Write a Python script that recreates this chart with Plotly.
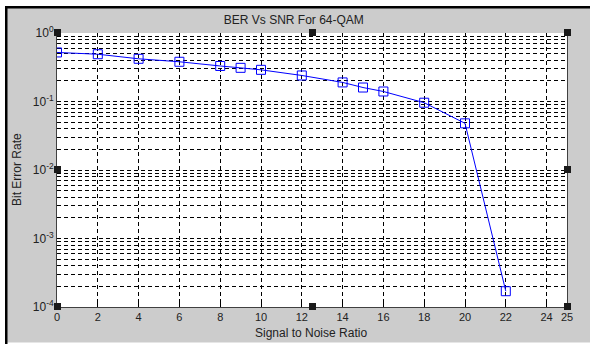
import plotly.graph_objects as go

# Data
snr = [0, 2, 4, 6, 8, 9, 10, 12, 14, 15, 16, 18, 20, 22]
ber = [0.52, 0.49, 0.42, 0.38, 0.33, 0.31, 0.29, 0.24, 0.19, 0.16, 0.14, 0.096, 0.048, 1.7e-4]
x_ticks = [0, 2, 4, 6, 8, 10, 12, 14, 16, 18, 20, 22, 24, 25]
y_ticks = [1e-4, 1e-3, 1e-2, 1e-1, 1e0]
y_tick_text = ["10<sup>-4</sup>", "10<sup>-3</sup>", "10<sup>-2</sup>", "10<sup>-1</sup>", "10<sup>0</sup>"]

W, H = 590, 344
L, R, T, B = 57, 567, 33, 307

def px(x):
    return (x - L) / (R - L)

def py(y):
    return (B - y) / (B - T)

fig = go.Figure()
fig.add_trace(go.Scatter(
    x=snr, y=ber, mode="lines+markers",
    line=dict(color="#0000ff", width=1),
    marker=dict(symbol="square-open", size=9, color="#0000ff", line=dict(width=1)),
    showlegend=False,
))

dash = "4px,3px"
fig.update_layout(
    width=W, height=H,
    margin=dict(l=L, r=W - R, t=T, b=H - B),
    paper_bgcolor="#cccccc",
    plot_bgcolor="white",
    font=dict(family="Liberation Sans, Arial, sans-serif", size=12, color="#222222"),
    title=dict(text="BER Vs SNR For 64-QAM", x=px(311), xanchor="center",
               y=1 - 20 / H, yanchor="middle", font=dict(size=12, color="#222222")),
    xaxis=dict(
        range=[0, 25], tickvals=x_ticks, ticktext=[str(v) for v in x_ticks],
        showgrid=True, gridcolor="#000000", gridwidth=1, griddash=dash,
        showline=True, linecolor="#404040", linewidth=1, mirror=False,
        ticks="inside", ticklen=4, tickcolor="#000000",
        zeroline=False, automargin=False, tickfont=dict(size=11),
    ),
    yaxis=dict(
        type="log", range=[-4, 0], tickvals=y_ticks, ticktext=y_tick_text,
        showgrid=True, gridcolor="#000000", gridwidth=1, griddash=dash,
        showline=True, linecolor="#404040", linewidth=1, mirror=True,
        ticks="inside", ticklen=4, tickcolor="#000000",
        zeroline=False, automargin=False, tickfont=dict(size=12),
        minor=dict(dtick="D1", showgrid=True, gridcolor="#000000", gridwidth=1,
                   griddash=dash, ticks=""),
    ),
)

fig.add_annotation(text="Signal to Noise Ratio", xref="paper", yref="paper",
                   x=px(311), y=py(333), xanchor="center", yanchor="middle",
                   showarrow=False, font=dict(size=12, color="#222222"))
fig.add_annotation(text="Bit Error Rate", xref="paper", yref="paper",
                   x=px(17), y=py(170), xanchor="center", yanchor="middle",
                   textangle=-90, showarrow=False, font=dict(size=12, color="#222222"))

shapes = []
# White outer strips (top, left, bottom)
shapes.append(dict(type="rect", xref="paper", yref="paper", x0=px(-5), x1=px(W + 5),
                   y0=py(6), y1=py(-5), fillcolor="white", line=dict(width=0), layer="above"))
shapes.append(dict(type="rect", xref="paper", yref="paper", x0=px(-5), x1=px(5),
                   y0=py(H + 5), y1=py(-5), fillcolor="white", line=dict(width=0), layer="above"))
shapes.append(dict(type="rect", xref="paper", yref="paper", x0=px(-5), x1=px(W + 5),
                   y0=py(H + 5), y1=py(342.5), fillcolor="white", line=dict(width=0), layer="above"))
# Black frame lines (top, left)
shapes.append(dict(type="rect", xref="paper", yref="paper", x0=px(5), x1=px(W + 5),
                   y0=py(8.5), y1=py(6), fillcolor="black", line=dict(width=0), layer="above"))
shapes.append(dict(type="rect", xref="paper", yref="paper", x0=px(5), x1=px(7.5),
                   y0=py(H + 5), y1=py(6), fillcolor="black", line=dict(width=0), layer="above"))
# Selection handles
for hx, hy in [(L, T), (R, T), (L, B), (R, B), ((L + R) / 2, T), ((L + R) / 2, B), (L, (T + B) / 2), (R, (T + B) / 2)]:
    shapes.append(dict(type="rect", xref="paper", yref="paper",
                       x0=px(hx - 3), x1=px(hx + 4), y0=py(hy + 3), y1=py(hy - 4),
                       fillcolor="#1a1a1a", line=dict(width=0), layer="above"))
fig.update_layout(shapes=shapes)

fig.write_html("out.html")
